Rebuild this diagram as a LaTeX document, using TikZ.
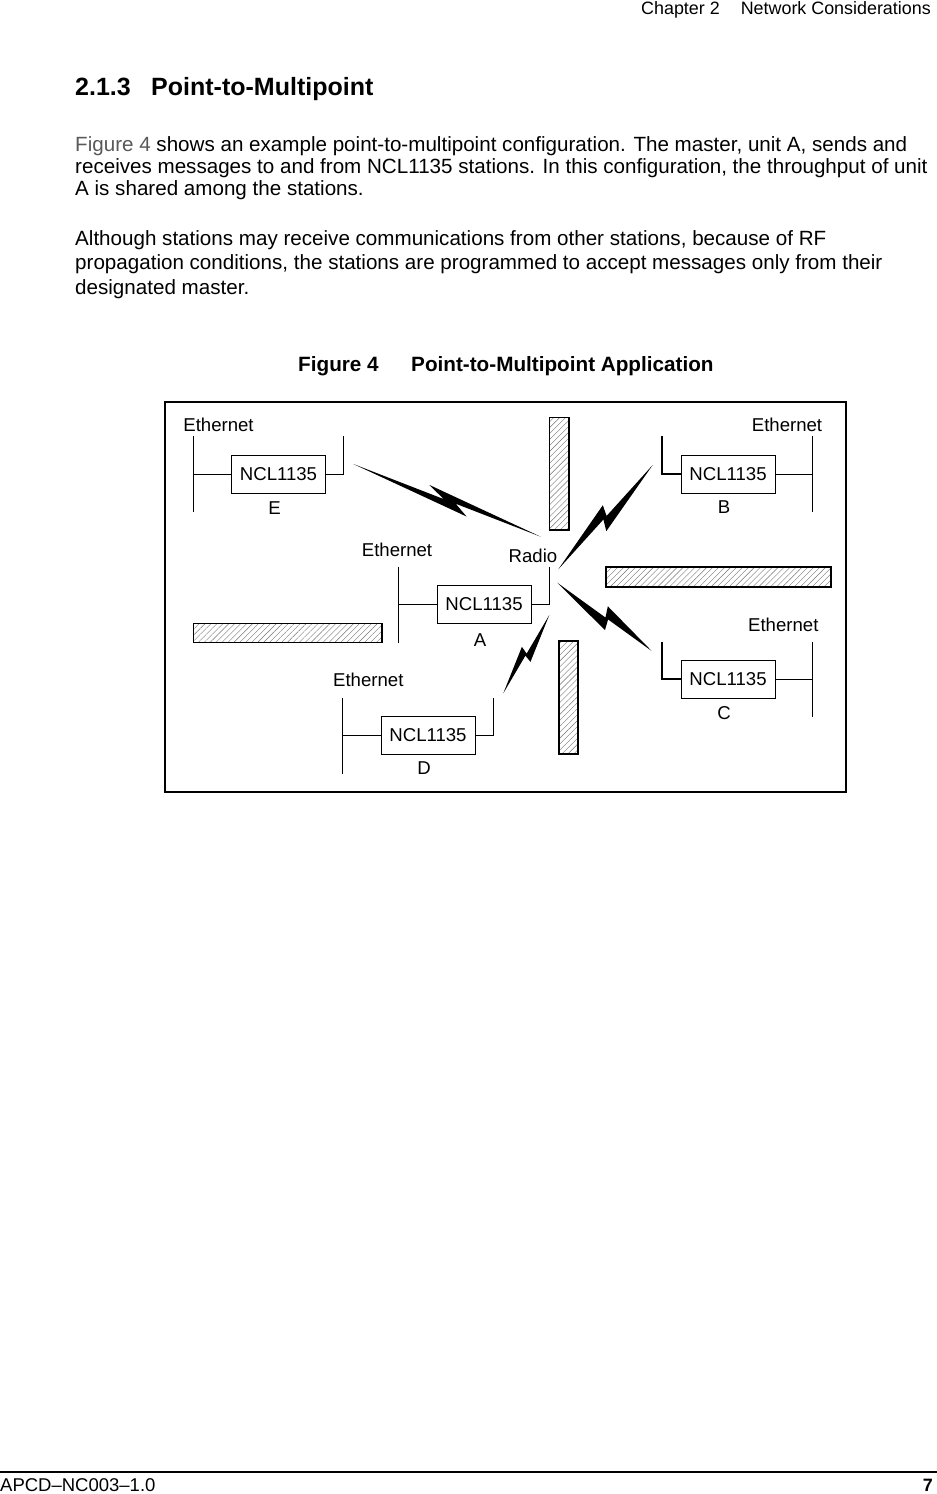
\documentclass[tikz,border=0pt]{standalone}
\usepackage{fontspec}
\setmainfont{Liberation Sans}
\usetikzlibrary{calc,positioning,patterns.meta}

\newcommand{\txtdiag}{\fontsize{18.6}{22}\selectfont}
\newcommand{\txtbody}{\fontsize{20.6}{24}\selectfont}
\newcommand{\txthead}{\fontsize{25}{30}\selectfont\bfseries}
\newcommand{\txtcap}{\fontsize{20.7}{25}\selectfont\bfseries}
\newcommand{\txtpage}{\fontsize{17.9}{21}\selectfont}

% radio link: from, to, angle, offset, tip fractions
\newcommand{\rflink}[6]{%
  \pgfmathsetmacro{\ta}{#5+0.4*(#6-#5)}
  \pgfmathsetmacro{\tb}{#5+0.68*(#6-#5)}
  \fill (#1) -- ($(#1)!\ta!(#2)$) -- ($(#1)!#5!(#2)!#4pt!#3:(#2)$) -- (#2)
    -- ($(#1)!\tb!(#2)$) -- ($(#1)!#6!(#2)!#4pt!#3:(#1)$) -- cycle;
}

\tikzset{
  unit/.style={draw, line width=1pt, minimum width=94pt, minimum height=38pt, inner sep=0pt, font=\txtdiag},
  tag/.style={anchor=base, inner sep=0pt, font=\txtdiag},
  wire/.style={line width=1pt},
  fatwire/.style={line width=1.8pt},
  wall/.style={draw, line width=1.6pt, pattern={Lines[angle=45,distance=4.2pt,line width=0.4pt]}, pattern color=black!55},
  body/.style={anchor=base west, inner sep=0pt, font=\txtbody},
}

\begin{document}
\begin{tikzpicture}[x=1pt, y=-1pt]
\useasboundingbox (0,0) rectangle (937,1494);

% Page text
\node[anchor=base east, inner sep=0pt, font=\txtpage] (chap) at (931,14) {Chapter 2\hspace{21pt}Network Considerations};
\node[anchor=base west, inner sep=0pt, font=\txthead] (secno) at (75,95) {2.1.3};
\node[anchor=base west, inner sep=0pt, font=\txthead] (sec) at (151,95) {Point-to-Multipoint};

\node[body] (p1a) at (75,151) {{\color{black!65}Figure 4} shows an example point-to-multipoint configuration. The master, unit A, sends and};
\node[body] (p1b) at (75,173) {receives messages to and from NCL1135 stations. In this configuration, the throughput of unit};
\node[body] (p1c) at (75,195) {A is shared among the stations.};
\node[body] (p2a) at (75,245) {Although stations may receive communications from other stations, because of RF};
\node[body] (p2b) at (75,269) {propagation conditions, the stations are programmed to accept messages only from their};
\node[body] (p2c) at (75,294) {designated master.};

\node[anchor=base west, inner sep=0pt, font=\txtcap] (capno) at (298,371) {Figure 4};
\node[anchor=base west, inner sep=0pt, font=\txtcap] (cap) at (411,371) {Point-to-Multipoint Application};

% Frame
\draw[line width=2pt] (164.5,402) rectangle (846,792);

% Walls
\draw[wall] (549.3,417.3) rectangle (568.7,530);
\draw[wall] (606,566.7) rectangle (830.7,586.7);
\draw[wall] (193.3,623.3) rectangle (381.7,642.3);
\draw[wall] (559,641) rectangle (577.7,754);

% Stations
\node[unit] (boxE) at (278.5,474) {NCL1135};
\node[unit] (boxB) at (728,474) {NCL1135};
\node[unit] (boxA) at (484,604.5) {NCL1135};
\node[unit] (boxD) at (428,735.5) {NCL1135};
\node[unit] (boxC) at (728,679) {NCL1135};

\node[tag] (lblE) at ($(boxE.south)+(-4,21)$) {E};
\node[tag] (lblB) at ($(boxB.south)+(-4,20)$) {B};
\node[tag] (lblA) at ($(boxA.south)+(-4,22)$) {A};
\node[tag] (lblD) at ($(boxD.south)+(-4,19)$) {D};
\node[tag] (lblC) at ($(boxC.south)+(-4,21)$) {C};

\node[tag] (netE) at (218.5,431.7) {Ethernet};
\node[tag] (netB) at (787,431.7) {Ethernet};
\node[tag] (netA) at (397,556.7) {Ethernet};
\node[tag] (netD) at (368.3,686.7) {Ethernet};
\node[tag] (netC) at (783.3,631.7) {Ethernet};
\node[tag] (radio) at (533,562) {Radio};

% Ethernet buses
\draw[fatwire] ($(boxE.west)+(-37.5,-38)$) -- ($(boxE.west)+(-37.5,38)$);
\draw[wire] (boxE.west) -- ++(-37.5,0);
\draw[wire] ($(boxB.east)+(36.7,-38)$) -- ($(boxB.east)+(36.7,38)$);
\draw[wire] (boxB.east) -- ++(36.7,0);
\draw[wire] ($(boxA.west)+(-37.7,-38)$) -- ($(boxA.west)+(-37.7,38)$);
\draw[wire] (boxA.west) -- ++(-37.7,0);
\draw[wire] ($(boxD.west)+(-38,-38)$) -- ($(boxD.west)+(-38,38)$);
\draw[wire] (boxD.west) -- ++(-38,0);
\draw[wire] ($(boxC.east)+(36.7,-37.5)$) -- ($(boxC.east)+(36.7,37.5)$);
\draw[wire] (boxC.east) -- ++(36.7,0);

% Antenna stubs
\draw[wire] (boxE.east) -- ++(17.5,0) -- ++(0,-38);
\draw[fatwire] (boxB.west) -- ++(-18.7,0) -- ++(0,-38);
\draw[wire] (boxA.east) -- ++(18.3,0) -- ++(0,-38);
\draw[wire] (boxD.east) -- ++(18.3,0) -- ++(0,-38);
\draw[fatwire] (boxC.west) -- ++(-18.6,0) -- ++(0,-37.5);

% Radio links
\coordinate (airE) at (353.3,464);
\coordinate (airAE) at (540.7,536.7);
\coordinate (airAB) at (558.3,569.3);
\coordinate (airB) at (652.7,465);
\coordinate (airAC) at (557.3,582.7);
\coordinate (airC) at (651.7,651);
\coordinate (airAD) at (549.3,615);
\coordinate (airD) at (503.3,693.3);

\rflink{airE}{airAE}{90}{8}{0.39}{0.62}
\rflink{airAB}{airB}{-90}{10}{0.43}{0.55}
\rflink{airAC}{airC}{90}{10.5}{0.47}{0.57}
\rflink{airAD}{airD}{-90}{7.5}{0.455}{0.55}

% Footer
\draw[line width=2pt] (0,1472) -- (937,1472);
\node[anchor=base west, inner sep=0pt, font=\fontsize{18.5}{22}\selectfont] (docno) at (0,1491) {APCD–NC003–1.0};
\node[anchor=base east, inner sep=0pt, font=\txtpage\bfseries] (pageno) at (933,1491) {7};

\end{tikzpicture}
\end{document}
